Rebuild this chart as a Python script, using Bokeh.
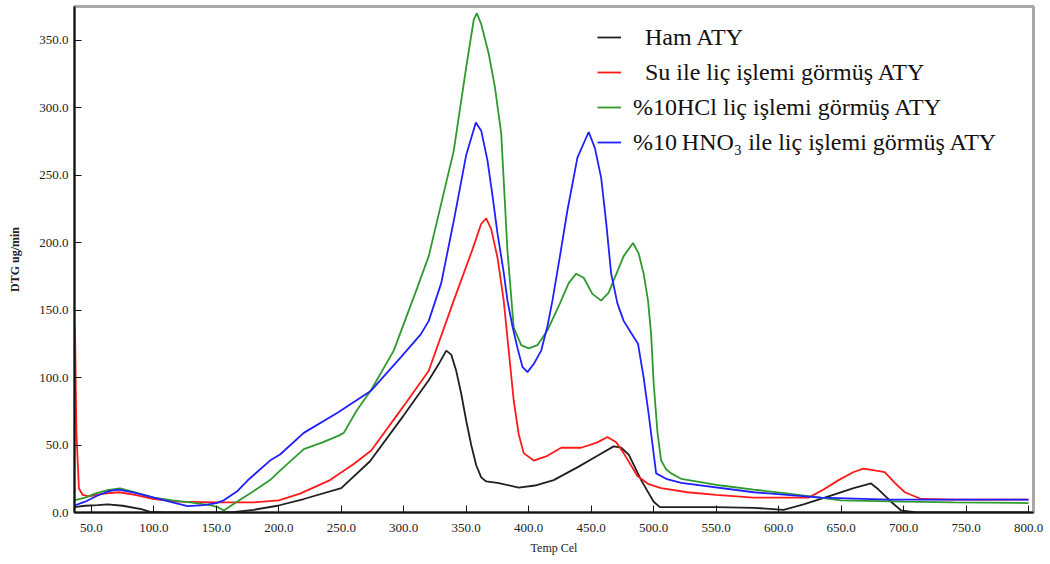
from bokeh.plotting import figure
from bokeh.models import Legend, LegendItem, NumeralTickFormatter, FixedTicker
from bokeh.embed import file_html
from bokeh.resources import INLINE

# ---- data ----
ham_t = [36, 45, 55, 63, 75, 90, 97, 110, 130, 150, 165, 180, 199, 220, 250, 273, 300, 320, 328, 334, 338, 342, 346, 350, 354, 358, 362, 366, 375, 392, 405, 420, 440, 455, 468, 474, 480, 490, 500, 505, 550, 580, 604, 620, 640, 660, 674, 680, 690, 698, 710, 800]
ham_v = [4, 5, 5.5, 6, 5, 2.5, 0.5, 0, 0, 0, 0.5, 2, 5, 10, 18, 38, 72, 98, 110, 120, 117, 105, 88, 68, 50, 35, 26, 23, 22, 18.5, 20, 24, 34, 42, 49, 48, 43, 24, 8, 4, 4, 3.5, 2, 6, 12, 18, 21.5, 17, 8, 1.5, 0, 0]

su_t = [36, 37, 38, 40, 43, 48, 60, 72, 85, 100, 120, 150, 180, 200, 217, 241, 260, 274, 300, 320, 340, 355, 362, 366, 370, 375, 380, 384, 388, 392, 396, 404, 415, 426, 442, 455, 463, 470, 476, 487, 496, 506, 527, 550, 580, 624, 636, 648, 660, 668, 678, 685, 693, 701, 714, 740, 800]
su_v = [145, 130, 60, 18, 13, 12, 14, 15, 13, 10, 8, 7.5, 7.5, 9, 14, 24, 36, 46, 79, 105, 157, 195, 214, 218, 210, 189, 157, 120, 83, 58, 44, 38.5, 42, 48, 48, 52, 56, 52, 44, 27, 21, 18, 15, 13, 11, 11, 17, 24, 30, 32.5, 31, 30, 22, 15, 10, 9.5, 9.5]

hcl_t = [36, 45, 53, 63, 73, 85, 100, 115, 129, 145, 151, 156, 165, 180, 193, 201, 220, 235, 248, 252, 262, 274, 292, 311, 320, 340, 350, 356, 358.5, 362, 368, 373, 378, 383, 388, 394, 400, 407, 415, 425, 432, 438, 444, 451, 458, 464, 468, 476, 483.5, 488, 492, 495.5, 498, 500, 503, 506, 510, 514, 522, 554, 580, 608, 650, 700, 740, 800]
hcl_v = [9, 11, 14, 16.5, 17.8, 15, 11, 9, 7.5, 5.5, 4, 1.5, 7, 16, 24, 31, 47, 52, 57, 59, 75, 91, 120, 167, 190, 268, 330, 365, 370, 362, 340, 315, 281, 194, 137, 124, 121.6, 124, 135, 155, 170, 177, 174, 162, 157, 163, 172, 190, 199.7, 192, 177, 157, 132, 96, 60, 38.5, 32, 29, 25, 20, 17, 14, 9, 8, 7.5, 7]

hno3_t = [36, 45, 55, 65, 72, 85, 100, 115, 127, 140, 150, 156, 167, 175, 193, 201, 220, 247, 273.5, 297.6, 313.6, 320, 330, 340, 350, 357.7, 362, 367, 371, 375, 380, 383, 387, 391, 395, 399, 404, 410, 415, 419, 425, 431, 439, 448, 453, 458, 462, 466, 471, 476, 482, 487.5, 492, 496, 502, 510, 522, 580, 634, 688, 800]
hno3_v = [5, 8, 12.6, 16, 17, 14.5, 11, 7.5, 4.7, 5.5, 7, 9, 16, 23.7, 38.5, 43, 59, 74, 90, 115, 132, 142, 170, 216, 265, 289, 283, 261, 235, 207, 178, 157, 138, 122, 108, 104, 110, 120, 138, 157, 190, 224, 263, 282, 270, 248, 215, 177, 155, 142, 133, 125, 100, 73, 29, 25, 22, 15, 11, 9.6, 9.6]

x_ticks = [50, 100, 150, 200, 250, 300, 350, 400, 450, 500, 550, 600, 650, 700, 750, 800]
y_ticks = [0, 50, 100, 150, 200, 250, 300, 350]

labels = ["\u00a0\u00a0Ham ATY",
          "\u00a0\u00a0Su ile liç işlemi görmüş ATY",
          "%10HCl liç işlemi görmüş ATY",
          "%10\u2009HNO\u2083 ile liç işlemi görmüş ATY"]
colors = ["#202020", "#ff1a1a", "#2e9a2e", "#2020ff"]

SERIF = "Liberation Serif"

p = figure(width=1050, height=564, x_range=(36.5, 804), y_range=(0, 375),
           output_backend="svg", toolbar_location=None,
           min_border_left=74, min_border_right=17, min_border_top=6, min_border_bottom=52)

p.outline_line_color = "#a8a8a8"
p.outline_line_width = 3
p.xgrid.visible = False
p.ygrid.visible = False

renderers = []
for t, v, c in [(ham_t, ham_v, colors[0]), (su_t, su_v, colors[1]),
                (hcl_t, hcl_v, colors[2]), (hno3_t, hno3_v, colors[3])]:
    renderers.append(p.line(t, v, line_color=c, line_width=1.8))

for ax in (p.xaxis[0], p.yaxis[0]):
    ax.axis_line_color = "#111111"
    ax.axis_line_width = 2
    ax.major_tick_in = 7
    ax.major_tick_out = 0
    ax.minor_tick_in = 0
    ax.minor_tick_out = 0
    ax.major_tick_line_color = "#111111"
    ax.major_label_text_font = SERIF
    ax.major_label_text_font_size = "13px"
    ax.major_label_text_color = "#222222"
    ax.formatter = NumeralTickFormatter(format="0.0")
    ax.axis_label_text_font = SERIF
    ax.axis_label_text_font_style = "normal"
    ax.axis_label_text_color = "#222222"

p.xaxis.ticker = FixedTicker(ticks=x_ticks)
p.yaxis.ticker = FixedTicker(ticks=y_ticks)
p.xaxis.axis_label = "Temp Cel"
p.xaxis.axis_label_text_font_size = "12px"
p.xaxis.major_label_standoff = 11
p.xaxis.axis_label_standoff = 6
p.yaxis.axis_label = "DTG ug/min"
p.yaxis.axis_label_text_font_size = "12px"
p.yaxis.axis_label_text_font_style = "bold"
p.yaxis.major_label_standoff = 6
p.yaxis.axis_label_standoff = 14

legend = Legend(items=[LegendItem(label=l, renderers=[r]) for l, r in zip(labels, renderers)],
                location=(518, 350))
legend.border_line_alpha = 0
legend.background_fill_alpha = 0
legend.label_text_font = SERIF
legend.label_text_font_size = "24px"
legend.label_text_color = "#111111"
legend.label_height = 30
legend.glyph_height = 30
legend.glyph_width = 24
legend.label_standoff = 12
legend.spacing = 5
legend.padding = 5
legend.margin = 0
p.add_layout(legend)

open("out.html", "w").write(file_html(p, INLINE))
